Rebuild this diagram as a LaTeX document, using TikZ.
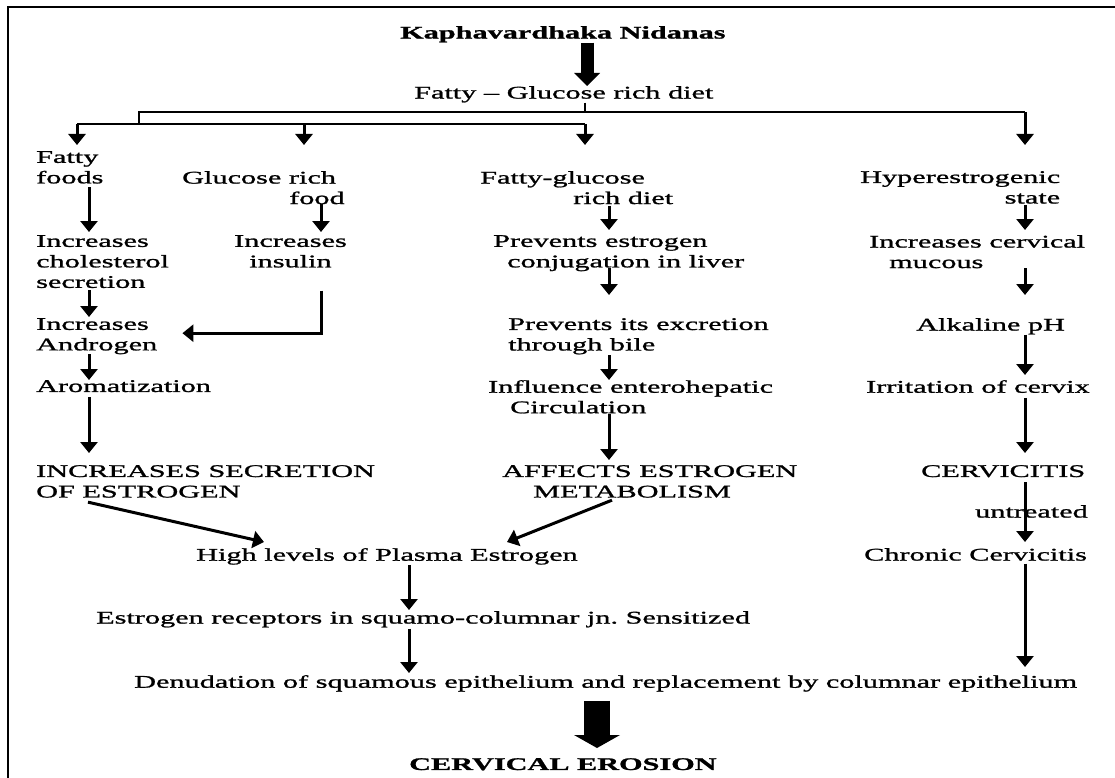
\documentclass[tikz,border=0pt]{standalone}
\usepackage{fontspec}
\setmainfont{Liberation Serif}[FakeStretch=1.70,FakeBold=1.2]
\usetikzlibrary{arrows.meta}

\begin{document}
\begin{tikzpicture}[x=1pt, y=-1pt,
  txt/.style={font=\fontsize{17.8}{20.5}\selectfont, inner sep=0pt, anchor=north west, align=left},
  arr/.style={line width=3pt, -{Triangle[width=17pt,length=11pt]}},
  link/.style={line width=1.8pt},
  fatarr/.style={-{Triangle[width=#1,length=13pt,line width=0pt]}}]
\useasboundingbox (0,0) rectangle (1115,778);
\draw[line width=1.5pt] (8,778) -- (8,7) -- (1115,7);

\coordinate (colA) at (89,0);
\coordinate (colB) at (321,0);
\coordinate (colC) at (609,0);
\coordinate (colD) at (1025,0);
\coordinate (colE) at (409,0);
\coordinate (colT) at (587,0);
\coordinate (colF) at (597,0);

\node[txt, font=\fontsize{17.8}{20.5}\selectfont\bfseries] (title) at (400,26) {Kaphavardhaka Nidanas};
\node[txt] (diet) at (414,86) {Fatty -- Glucose rich diet};

\node[txt] (fatty) at (36,151) {Fatty\\foods};
\node[txt] (glucose) at (182,171) {Glucose rich\\\hspace*{107pt}food};
\node[txt] (fgdiet) at (480,171) {Fatty-glucose\\\hspace*{93pt}rich diet};
\node[txt, align=right] (hyper) at (860,171) {Hyperestrogenic\\state};

\node[txt] (incchol) at (36,235) {Increases\\cholesterol\\secretion};
\node[txt, align=center] (incins) at (234,235) {Increases\\insulin};
\node[txt] (prevconj) at (493,235) {Prevents estrogen\\\hspace*{14pt}conjugation in liver};
\node[txt] (inccerv) at (869,235) {Increases cervical\\\hspace*{20pt}mucous};

\node[txt] (incandro) at (36,318) {Increases\\Androgen};
\node[txt] (prevexc) at (508,318) {Prevents its excretion\\through bile};
\node[txt] (alk) at (916,318) {Alkaline pH};

\node[txt] (arom) at (36,380) {Aromatization};
\node[txt] (influ) at (488,380) {Influence enterohepatic\\\hspace*{22pt}Circulation};
\node[txt] (irrit) at (866,380) {Irritation of cervix};

\node[txt] (incsec) at (36,465) {INCREASES SECRETION\\OF ESTROGEN};
\node[txt] (affects) at (502,465) {AFFECTS ESTROGEN\\\hspace*{31pt}METABOLISM};
\node[txt] (cerv) at (921,465) {CERVICITIS};
\node[txt] (untreated) at (975,505) {untreated};

\node[txt] (high) at (196,548) {High levels of Plasma Estrogen};
\node[txt] (chronic) at (864,548) {Chronic Cervicitis};
\node[txt] (recept) at (96,611) {Estrogen receptors in squamo-columnar jn.\ Sensitized};
\node[txt] (denud) at (134,675) {Denudation of squamous epithelium and replacement by columnar epithelium};
\node[txt, font=\fontsize{17.8}{20.5}\selectfont\bfseries] (erosion) at (409,758) {CERVICAL EROSION};

\draw[line width=13pt, fatarr=26pt] (title.south -| colT) -- (diet.north -| colT);

\coordinate (bl) at (139,112);
\coordinate (br) at (1025,112);
\coordinate (ll) at (77,124);
\coordinate (lm) at (304,124);
\coordinate (lr) at (585,124);
\coordinate (tips) at (0,145);
\draw[link] (diet.south -| lr) -- (lr |- bl);
\draw[link] (bl |- ll) -- (bl) -- (br);
\draw[link] (ll) -- (lr);
\draw[arr] (ll) -- (ll |- tips);
\draw[arr] (lm) -- (lm |- tips);
\draw[arr] (lr) -- (lr |- tips);
\draw[arr] (br) -- (br |- tips);

\draw[arr, shorten <=3.3pt, shorten >=3pt] (fatty.south -| colA) -- (incchol.north -| colA);
\draw[arr, shorten >=3pt] (glucose.south -| colB) -- (incins.north -| colB);
\draw[arr, shorten <=1.3pt, shorten >=5pt] (fgdiet.south -| colC) -- (prevconj.north -| colC);
\draw[arr, shorten <=1.3pt, shorten >=5pt] (hyper.south -| colD) -- (inccerv.north -| colD);

\draw[arr, shorten <=1.8pt, shorten >=1pt] (incchol.south -| colA) -- (incandro.north -| colA);
\draw[arr, shorten <=23pt, shorten >=25pt] (incins.south -| colB) |- ([yshift=3pt]incandro.east);
\draw[arr, shorten <=-3pt, shorten >=23pt] (prevconj.south -| colC) -- (prevexc.north -| colC);
\draw[arr, shorten >=23pt] (inccerv.south -| colD) -- (alk.north -| colD);

\draw[arr] (incandro.south -| colA) -- (arom.north -| colA);
\draw[arr, shorten <=0.6pt] (prevexc.south -| colC) -- (influ.north -| colC);
\draw[arr, shorten >=5pt] (alk.south -| colD) -- (irrit.north -| colD);

\draw[arr, shorten <=4.8pt, shorten >=12pt] (arom.south -| colA) -- (incsec.north -| colA);
\draw[arr, shorten >=5pt] (influ.south -| colC) -- (affects.north -| colC);
\draw[arr, shorten <=4.8pt, shorten >=12pt] (irrit.south -| colD) -- (cerv.north -| colD);

\draw[arr, shorten <=5pt, shorten >=6pt] (cerv.south -| colD) -- (chronic.north -| colD);
\draw[arr, shorten <=2.8pt, shorten >=8pt] (chronic.south -| colD) -- (denud.north -| colD);

\draw[arr] ([xshift=52pt,yshift=-4.3pt]incsec.south west) -- ([xshift=68pt,yshift=6pt]high.north west);
\draw[arr] ([xshift=110pt,yshift=-2.3pt]affects.south west) -- ([xshift=311pt,yshift=6pt]high.north west);

\draw[arr, shorten >=1pt] (high.south -| colE) -- (recept.north -| colE);
\draw[arr, shorten <=1pt, shorten >=2pt] (recept.south -| colE) -- (denud.north -| colE);

\draw[line width=26pt, fatarr=46pt, shorten <=9pt, shorten >=10pt] (denud.south -| colF) -- (erosion.north -| colF);
\end{tikzpicture}
\end{document}
